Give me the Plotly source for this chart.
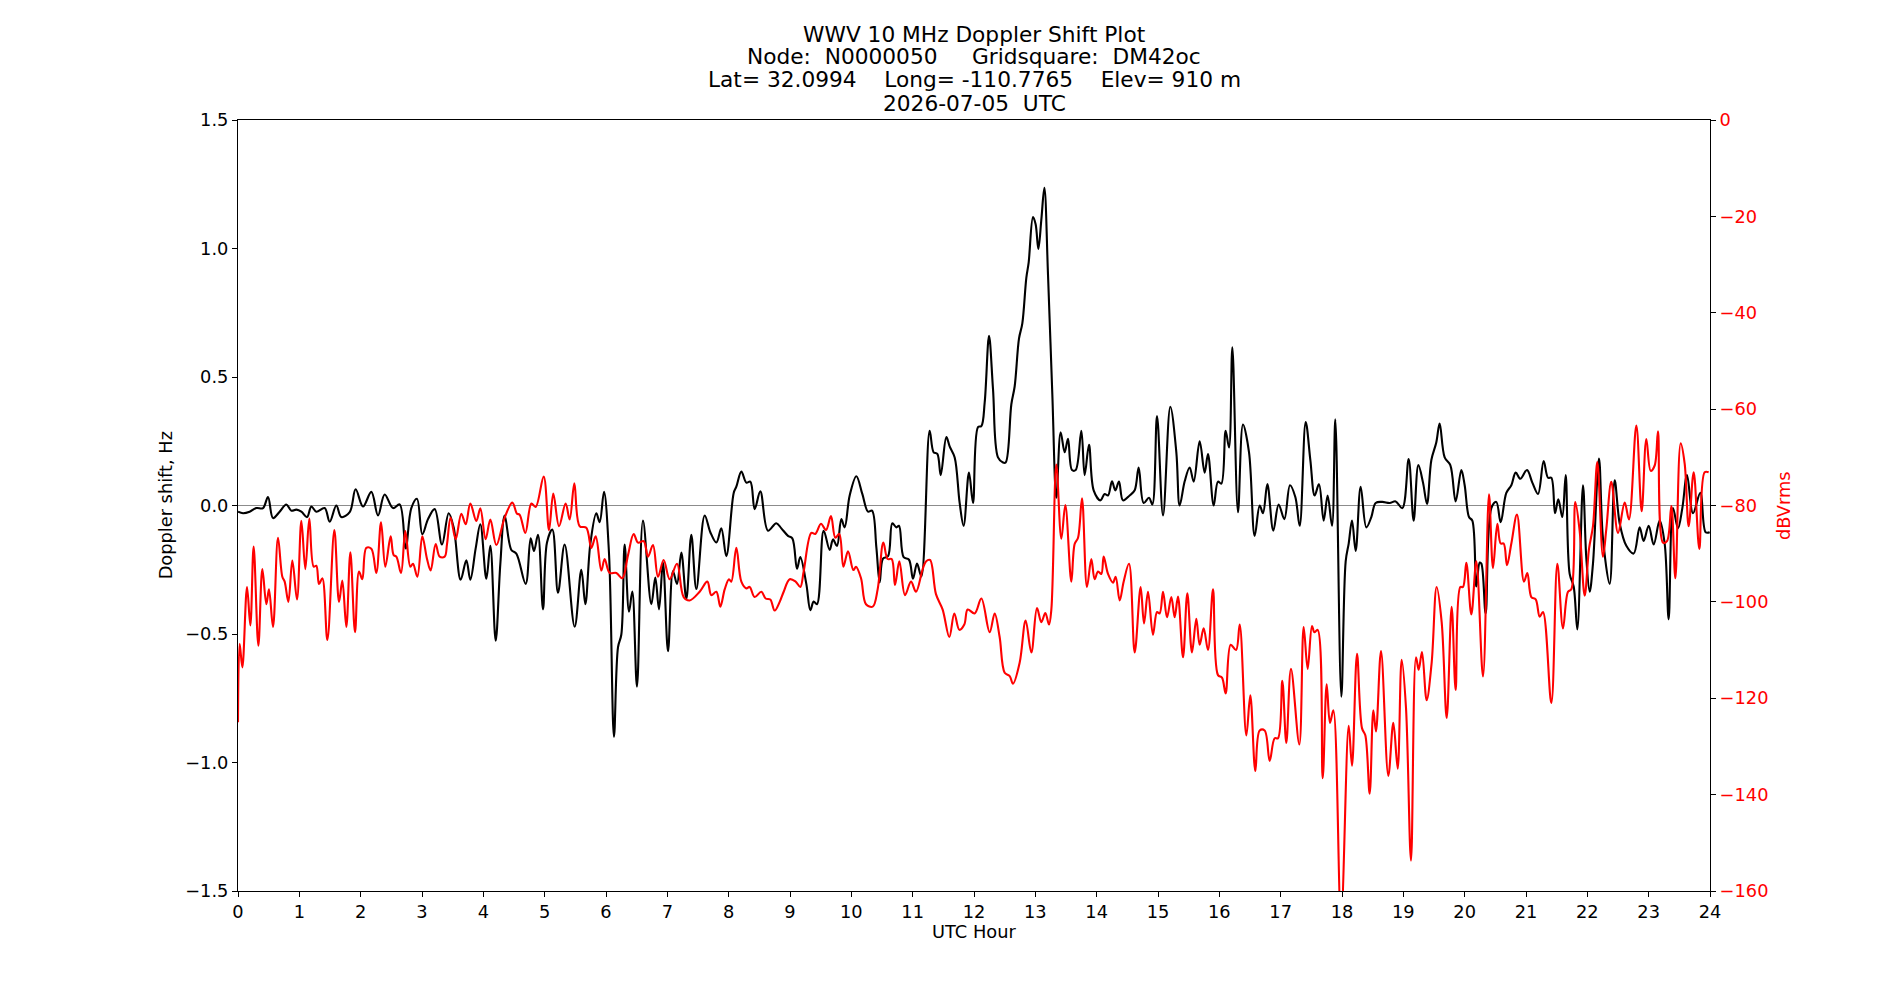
import plotly.graph_objects as go

# ---------------- data ----------------
doppler_hours = [
    0.000, 0.082, 0.190, 0.299, 0.408, 0.489, 0.571, 0.679, 0.788, 0.870, 0.951, 1.033, 1.125, 1.196,
    1.277, 1.413, 1.495, 1.603, 1.685, 1.821, 1.918, 2.038, 2.174, 2.283, 2.391, 2.527, 2.636, 2.734,
    2.826, 2.918, 3.005, 3.098, 3.207, 3.326, 3.435, 3.516, 3.630, 3.723, 3.788, 3.875, 3.951,
    4.049, 4.114, 4.201, 4.277, 4.348, 4.457, 4.538, 4.690, 4.772, 4.826, 4.891, 4.973, 5.038, 5.125,
    5.217, 5.326, 5.489, 5.598, 5.663, 5.745, 5.842, 5.897, 5.967, 6.049, 6.130, 6.196, 6.250, 6.304,
    6.375, 6.429, 6.505, 6.603, 6.739, 6.804, 6.864, 6.929, 7.011, 7.092, 7.158, 7.228, 7.310, 7.391,
    7.473, 7.609, 7.701, 7.799, 7.880, 7.962,
    8.082, 8.125, 8.207, 8.288, 8.353, 8.424, 8.516, 8.641, 8.777, 8.859, 8.967, 9.038, 9.114, 9.168,
    9.266, 9.332, 9.386, 9.440, 9.549, 9.647, 9.701, 9.766, 9.837, 9.891, 9.973, 10.082, 10.179, 10.272,
    10.337, 10.408, 10.462, 10.516, 10.598, 10.668, 10.734, 10.777, 10.853, 10.940, 11.005, 11.071,
    11.141, 11.277, 11.342, 11.402, 11.457, 11.549, 11.603, 11.685, 11.766, 11.831,
    11.918, 11.984, 12.065, 12.120, 12.174, 12.245, 12.310, 12.391, 12.473, 12.516, 12.609, 12.663,
    12.734, 12.788, 12.853, 12.891, 12.962, 13.005, 13.049, 13.098, 13.147, 13.207, 13.277, 13.342,
    13.413, 13.478, 13.533, 13.598, 13.658, 13.750, 13.804, 13.875, 13.951, 14.060, 14.130, 14.185,
    14.250, 14.304, 14.364, 14.429, 14.538, 14.620, 14.685, 14.766, 14.853, 14.908, 14.984, 15.082,
    15.201, 15.299, 15.353, 15.435, 15.516,
    15.582, 15.679, 15.761, 15.815, 15.908, 15.978, 16.033, 16.103, 16.158, 16.212, 16.304, 16.386,
    16.484, 16.576, 16.658, 16.712, 16.783, 16.880, 16.967, 17.060, 17.152, 17.239, 17.310, 17.408,
    17.484, 17.554, 17.625, 17.701, 17.766, 17.837, 17.891, 17.989, 18.060, 18.109, 18.163, 18.223,
    18.304, 18.397, 18.478, 18.549, 18.658, 18.777, 18.875, 18.984, 19.087, 19.168, 19.245, 19.321,
    19.386, 19.457, 19.538, 19.592, 19.674,
    19.766, 19.853, 19.946, 20.000, 20.071, 20.125, 20.190, 20.245, 20.272, 20.342, 20.435, 20.516,
    20.587, 20.679, 20.761, 20.832, 20.908, 21.016, 21.103, 21.196, 21.288, 21.359, 21.413, 21.473,
    21.527, 21.592, 21.647, 21.712, 21.777, 21.837, 21.929, 21.984, 22.038, 22.092, 22.190, 22.255,
    22.364, 22.446, 22.527, 22.636, 22.755, 22.853, 22.918, 23.000, 23.082, 23.179, 23.261, 23.326,
    23.397, 23.478, 23.549, 23.625, 23.723, 23.842, 23.929, 23.995,
]
doppler_hz = [
    -0.024, -0.030, -0.024, -0.010, -0.010, 0.033, -0.049, -0.024, 0.004, -0.020, -0.016, -0.024, -0.045, -0.004,
    -0.024, -0.010, -0.063, 0.000, -0.045, -0.026, 0.063, -0.004, 0.053, -0.039, 0.043, -0.010, 0.004, -0.167,
    -0.010, 0.026, -0.112, -0.053, -0.014, -0.152, -0.030, -0.085, -0.289, -0.213, -0.289, -0.167, -0.073,
    -0.285, -0.157, -0.526, -0.228, -0.039, -0.173, -0.187, -0.305, -0.128, -0.177, -0.114, -0.404, -0.144, -0.094,
    -0.339, -0.152, -0.472, -0.250, -0.384, -0.148, -0.030, -0.065, 0.053, -0.187, -0.900, -0.551, -0.502, -0.152,
    -0.413, -0.335, -0.705, -0.059, -0.384, -0.280, -0.404, -0.222, -0.567, -0.256, -0.305, -0.183, -0.364, -0.114,
    -0.325, -0.039, -0.104, -0.144, -0.089, -0.197,
    0.049, 0.073, 0.132, 0.089, 0.093, -0.014, 0.055, -0.098, -0.069, -0.089, -0.118, -0.128, -0.246, -0.201,
    -0.305, -0.407, -0.374, -0.384, -0.098, -0.173, -0.132, -0.157, -0.053, -0.085, 0.039, 0.114, 0.045, -0.024,
    -0.020, -0.163, -0.299, -0.207, -0.197, -0.069, -0.085, -0.079, -0.201, -0.211, -0.285, -0.226,
    -0.276, 0.291, 0.207, 0.201, 0.118, 0.266, 0.230, 0.187, 0.010, -0.079,
    0.128, 0.010, 0.305, 0.309, 0.400, 0.660, 0.453, 0.187, 0.167, 0.167, 0.394, 0.463,
    0.650, 0.709, 0.886, 0.945, 1.122, 1.094, 0.998, 1.112, 1.236, 0.896, 0.433, 0.030,
    0.285, 0.207, 0.260, 0.138, 0.138, 0.291, 0.118, 0.236, 0.059, 0.020, 0.045, 0.039,
    0.094, 0.059, 0.093, 0.020, 0.039, 0.059, 0.148, 0.010, 0.030, 0.004, 0.348, -0.039,
    0.384, 0.207, 0.000, 0.094, 0.148,
    0.093, 0.250, 0.128, 0.200, 0.000, 0.093, 0.085, 0.291, 0.226, 0.616, -0.026, 0.315,
    0.207, -0.118, 0.000, -0.030, 0.083, -0.098, 0.004, -0.053, 0.079, 0.033, -0.079, 0.325,
    0.177, 0.039, 0.083, -0.059, 0.039, -0.079, 0.335, -0.744, -0.217, -0.148, -0.059, -0.177,
    0.073, -0.085, -0.045, 0.010, 0.014, 0.010, 0.016, -0.010, 0.181, -0.059, 0.157, 0.089,
    0.006, 0.177, 0.246, 0.319, 0.187,
    0.157, 0.016, 0.138, 0.079, -0.045, -0.059, -0.315, -0.222, -0.226, -0.420, -0.010, 0.014,
    -0.065, 0.049, 0.079, 0.128, 0.104, 0.138, 0.089, 0.045, 0.173, 0.108, 0.108, -0.030,
    0.024, -0.045, 0.118, -0.266, -0.315, -0.482, 0.079, -0.207, -0.335, -0.226, 0.183, -0.128,
    -0.305, 0.098, -0.069, -0.157, -0.187, -0.085, -0.138, -0.079, -0.152, -0.059, -0.148, -0.443,
    -0.010, -0.089, -0.010, 0.118, -0.030, 0.049, -0.104, -0.104,
]

power_hours = [
    0.000, 0.027, 0.071, 0.147, 0.201, 0.255, 0.332, 0.397, 0.462, 0.505, 0.571, 0.652, 0.723, 0.761,
    0.821, 0.886, 0.962, 1.033, 1.098, 1.163, 1.234, 1.277, 1.321, 1.375, 1.457, 1.571, 1.647, 1.701,
    1.766, 1.832, 1.908, 1.973, 2.027, 2.092, 2.174, 2.255, 2.332, 2.402, 2.489, 2.538, 2.582, 2.658,
    2.728, 2.810, 2.853, 2.924, 3.005, 3.082, 3.141, 3.223, 3.288, 3.370, 3.408, 3.467, 3.549, 3.641,
    3.712, 3.788, 3.886, 3.951, 4.038,
    4.114, 4.212, 4.348, 4.473, 4.549, 4.592, 4.685, 4.783, 4.853, 4.984, 5.071, 5.141, 5.234, 5.342,
    5.408, 5.484, 5.571, 5.679, 5.761, 5.832, 5.924, 5.978, 6.060, 6.168, 6.266, 6.359, 6.451, 6.522,
    6.614, 6.685, 6.766, 6.848, 6.940, 7.038, 7.158, 7.266, 7.364, 7.527, 7.652, 7.717, 7.799, 7.864,
    7.935, 8.005,
    8.043, 8.125, 8.207, 8.288, 8.342, 8.424, 8.533, 8.603, 8.679, 8.750, 8.832, 8.897, 8.995, 9.092,
    9.168, 9.223, 9.348, 9.413, 9.505, 9.587, 9.668, 9.739, 9.804, 9.870, 9.946, 10.033, 10.076, 10.158,
    10.239, 10.348, 10.429, 10.522, 10.592, 10.658, 10.712, 10.783, 10.875, 10.973, 11.054, 11.163,
    11.217, 11.283, 11.380, 11.489, 11.598, 11.679, 11.761, 11.842, 11.897,
    12.011, 12.120, 12.255, 12.337, 12.418, 12.500, 12.582, 12.636, 12.745, 12.842, 12.935, 13.027,
    13.098, 13.163, 13.223, 13.261, 13.342, 13.424, 13.489, 13.587, 13.641, 13.696, 13.761, 13.842,
    13.913, 13.967, 14.022, 14.076, 14.114, 14.185, 14.266, 14.310, 14.375, 14.440, 14.527, 14.620,
    14.717, 14.772, 14.837, 14.918, 14.984, 15.027, 15.082, 15.147, 15.217, 15.272, 15.326, 15.408,
    15.478, 15.554, 15.625, 15.679, 15.745, 15.815,
    15.897, 15.978, 16.043, 16.103, 16.185, 16.272, 16.332, 16.440, 16.505, 16.587, 16.658, 16.739,
    16.821, 16.902, 16.957, 17.027, 17.092, 17.168, 17.304, 17.375, 17.440, 17.511, 17.549, 17.603,
    17.685, 17.750, 17.804, 17.859, 17.984, 18.109, 18.163, 18.245, 18.326, 18.380, 18.451, 18.511,
    18.554, 18.636, 18.755, 18.837, 18.908, 18.973, 19.043, 19.125, 19.207, 19.250, 19.304, 19.380,
    19.462, 19.543, 19.625, 19.707,
    19.788, 19.853, 19.929, 19.973, 20.027, 20.109, 20.190, 20.299, 20.397, 20.462, 20.533, 20.587,
    20.636, 20.690, 20.761, 20.853, 20.967, 21.022, 21.087, 21.158, 21.223, 21.277, 21.413, 21.511,
    21.603, 21.685, 21.739, 21.804, 21.875, 21.957, 22.027, 22.092, 22.163, 22.255, 22.310, 22.391,
    22.500, 22.609, 22.679, 22.799, 22.886, 22.962, 23.033, 23.098, 23.152, 23.234, 23.299, 23.370,
    23.435, 23.522, 23.587, 23.652, 23.734, 23.826, 23.913, 23.978,
]
power_dbv = [
    -125.0, -108.7, -113.6, -96.9, -104.9, -88.5, -109.1, -93.2, -100.5, -97.4, -105.2, -86.7, -94.8, -95.8,
    -100.0, -91.4, -99.5, -83.2, -93.2, -82.7, -92.7, -92.5, -96.3, -95.1, -107.9, -85.1, -100.0, -95.6,
    -105.2, -89.7, -106.3, -93.7, -95.3, -88.8, -89.0, -94.0, -83.5, -92.7, -86.4, -90.3, -90.6, -94.0,
    -85.3, -92.7, -92.1, -94.8, -86.4, -91.1, -93.5, -88.0, -90.6, -90.6, -88.0, -82.5, -87.0, -81.7,
    -83.9, -79.6, -83.2, -80.6, -87.0,
    -82.9, -88.2, -82.5, -79.4, -81.7, -81.9, -85.7, -79.6, -80.3, -74.0, -85.1, -77.5, -84.3, -79.6,
    -82.9, -75.4, -84.3, -84.6, -88.8, -86.4, -93.5, -91.1, -94.0, -94.0, -95.1, -90.3, -85.9, -87.7,
    -87.4, -90.6, -88.2, -94.8, -91.3, -95.3, -92.1, -99.0, -99.7, -97.9, -95.8, -98.6, -97.9, -101.0,
    -97.4, -95.3,
    -95.8, -88.8, -95.8, -97.2, -96.9, -99.0, -97.9, -99.3, -99.5, -101.8, -100.0, -97.9, -95.3, -95.8,
    -96.9, -93.7, -85.7, -85.9, -83.8, -85.1, -82.2, -86.7, -85.9, -92.7, -89.5, -93.4, -92.7, -95.1,
    -100.5, -101.0, -97.4, -87.7, -91.1, -91.1, -96.5, -91.6, -98.6, -95.8, -97.9, -93.2,
    -91.6, -91.3, -98.4, -101.6, -107.3, -102.4, -105.8, -104.7, -101.6,
    -102.4, -99.3, -106.3, -102.4, -107.3, -114.7, -115.4, -117.0, -112.6, -103.9, -110.5, -101.3,
    -104.2, -102.3, -104.7, -101.6, -71.5, -86.9, -79.9, -95.8, -88.0, -86.7, -78.5, -96.9,
    -91.1, -95.3, -93.7, -94.2, -90.6, -94.2, -96.0, -94.8, -99.7, -95.8, -92.1, -110.5,
    -96.9, -104.5, -97.9, -106.8, -102.1, -102.4, -97.9, -103.2, -99.0, -103.2, -98.9, -111.5,
    -98.2, -110.5, -103.5, -108.9, -105.5, -110.0,
    -97.4, -115.2, -115.7, -119.0, -108.9, -110.0, -104.7, -127.7, -119.4, -135.1, -126.7, -126.7,
    -133.0, -128.3, -128.3, -116.4, -129.3, -113.9, -129.6, -105.2, -113.9, -105.0, -106.3, -105.8,
    -136.6, -117.1, -125.1, -122.5, -166.0, -125.7, -134.0, -110.8, -126.2, -127.7, -139.8, -122.5,
    -126.9, -110.2, -136.1, -125.1, -134.6, -112.0, -121.9, -153.7, -111.5, -114.1, -110.4, -120.4,
    -112.6, -96.9, -104.2, -124.1,
    -101.0, -118.3, -96.9, -96.9, -91.9, -102.6, -91.6, -115.5, -77.7, -93.0, -83.8, -87.9,
    -87.9, -92.4, -87.9, -81.9, -95.8, -94.0, -99.0, -99.5, -103.1, -102.1, -121.0, -92.1,
    -105.5, -97.9, -97.4, -79.3, -85.3, -98.7, -89.0, -84.3, -71.0, -90.6, -84.8, -75.1,
    -85.7, -79.4, -82.9, -63.4, -81.2, -66.2, -72.8, -71.7, -64.6, -87.7, -87.4, -80.1,
    -95.1, -67.1, -71.3, -84.3, -73.1, -89.0, -73.1, -73.1,
]

hour_ticks = list(range(0, 25))
title_lines = [
    "WWV 10 MHz Doppler Shift Plot",
    "Node:  N0000050     Gridsquare:  DM42oc",
    "Lat= 32.0994    Long= -110.7765    Elev= 910 m",
    "2026-07-05  UTC",
]

# ---------------- figure ----------------
FONT = "DejaVu Sans"
TICK_SIZE = 17.8
LABEL_SIZE = 17.8
TITLE_SIZE = 21.7

fig = go.Figure()
fig.add_trace(go.Scatter(
    x=doppler_hours, y=doppler_hz, mode="lines", yaxis="y",
    line=dict(color="black", width=2.1, shape="spline", smoothing=1.0),
    showlegend=False, hoverinfo="skip",
))
fig.add_trace(go.Scatter(
    x=power_hours, y=power_dbv, mode="lines", yaxis="y2",
    line=dict(color="red", width=2.1, shape="spline", smoothing=1.0),
    showlegend=False, hoverinfo="skip",
))

axis_common = dict(
    showgrid=False, showline=True, linecolor="black", linewidth=1.1,
    ticks="outside", ticklen=5, tickwidth=1.1, tickcolor="black",
)
fig.update_layout(
    width=1900, height=1000,
    margin=dict(l=238, r=190, t=120, b=109),
    paper_bgcolor="white", plot_bgcolor="white",
    font=dict(family=FONT, size=TICK_SIZE, color="black"),
    xaxis=dict(range=[0, 24], tickvals=hour_ticks, zeroline=False, mirror=True,
               tickfont=dict(size=TICK_SIZE), **axis_common),
    yaxis=dict(range=[-1.5, 1.5], dtick=0.5, tick0=0, tickformat=".1f", mirror=True,
               zeroline=True, zerolinecolor="#8c8c8c", zerolinewidth=1.2,
               tickfont=dict(size=TICK_SIZE), **axis_common),
    yaxis2=dict(range=[-160, 0], dtick=20, tick0=0, overlaying="y", side="right",
                zeroline=False, tickfont=dict(size=TICK_SIZE, color="red"), **axis_common),
)

title_y = [1.1115, 1.0821, 1.0519, 1.0220]
for txt, yy in zip(title_lines, title_y):
    fig.add_annotation(text=txt, x=0.5, y=yy, xref="paper", yref="paper",
                       xanchor="center", yanchor="middle", showarrow=False,
                       font=dict(family=FONT, size=TITLE_SIZE, color="black"))

fig.add_annotation(text="Doppler shift, Hz", x=-0.0490, y=0.5, xref="paper", yref="paper",
                   textangle=-90, xanchor="center", yanchor="middle", showarrow=False,
                   font=dict(family=FONT, size=LABEL_SIZE, color="black"))
fig.add_annotation(text="dBVrms", x=1.0500, y=0.5, xref="paper", yref="paper",
                   textangle=-90, xanchor="center", yanchor="middle", showarrow=False,
                   font=dict(family=FONT, size=LABEL_SIZE, color="red"))
fig.add_annotation(text="UTC Hour", x=0.5, y=-0.0525, xref="paper", yref="paper",
                   xanchor="center", yanchor="middle", showarrow=False,
                   font=dict(family=FONT, size=LABEL_SIZE, color="black"))

fig.write_html("out.html")
